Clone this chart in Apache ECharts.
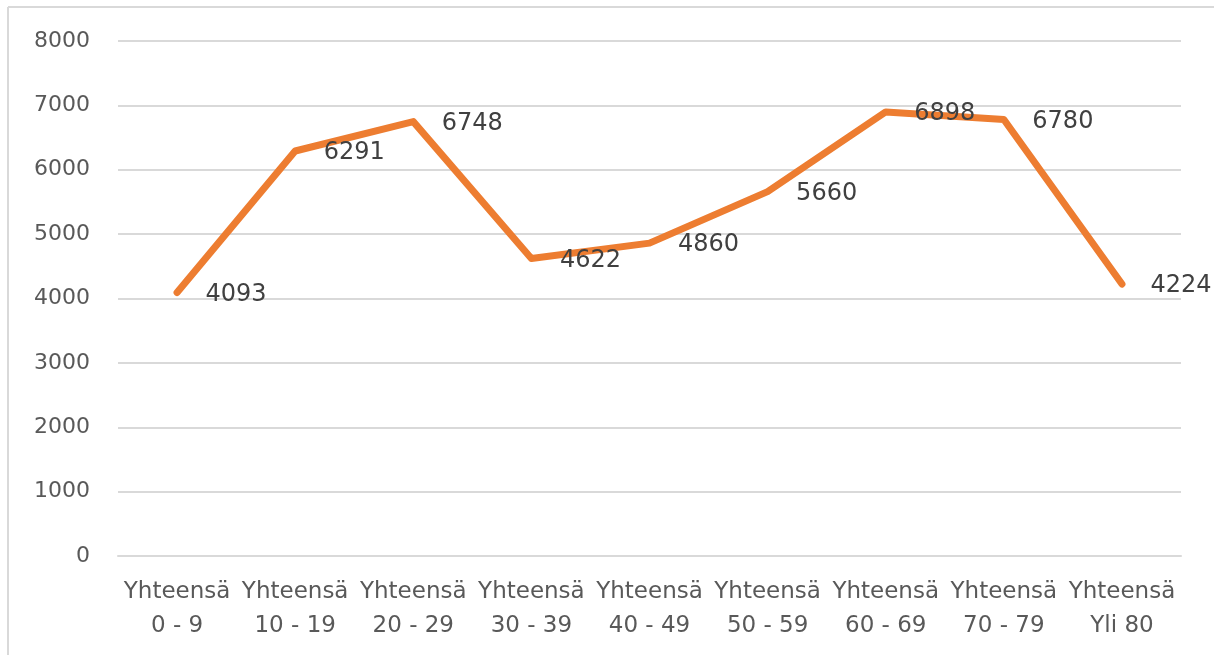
<!DOCTYPE html>
<html>
<head>
<meta charset="utf-8">
<script src="https://cdn.jsdelivr.net/npm/echarts@6/dist/echarts.min.js"></script>
<style>
  html, body { margin: 0; padding: 0; background: #fff; }
  #main { width: 1214px; height: 655px; }
</style>
</head>
<body>
<div id="main"></div>
<script>
var categories = ['Yhteensä\n0 - 9', 'Yhteensä\n10 - 19', 'Yhteensä\n20 - 29', 'Yhteensä\n30 - 39',
    'Yhteensä\n40 - 49', 'Yhteensä\n50 - 59', 'Yhteensä\n60 - 69', 'Yhteensä\n70 - 79', 'Yhteensä\nYli 80'];
var values = [4093, 6291, 6748, 4622, 4860, 5660, 6898, 6780, 4224];
var yTicks = [0, 1000, 2000, 3000, 4000, 5000, 6000, 7000, 8000];

var chart = echarts.init(document.getElementById('main'));
var font = '"DejaVu Sans", sans-serif';
var option = {
    animation: false,
    backgroundColor: '#fff',
    graphic: [
        { type: 'line', shape: { x1: 8, y1: 7, x2: 1214, y2: 7 }, style: { stroke: '#d9d9d9', lineWidth: 2 } },
        { type: 'line', shape: { x1: 8, y1: 7, x2: 8, y2: 655 }, style: { stroke: '#d9d9d9', lineWidth: 2 } }
    ],
    grid: { left: 118, right: 33, top: 41, bottom: 99 },
    xAxis: {
        type: 'category',
        data: categories,
        boundaryGap: true,
        axisLine: { show: true, lineStyle: { color: '#d9d9d9', width: 2 } },
        axisTick: { show: false },
        axisLabel: {
            interval: 0,
            margin: 19,
            color: '#595959',
            fontSize: 23,
            lineHeight: 34,
            fontFamily: font
        }
    },
    yAxis: {
        type: 'value',
        min: yTicks[0],
        max: yTicks[yTicks.length - 1],
        interval: 1000,
        axisLine: { show: false },
        axisTick: { show: false },
        splitLine: { lineStyle: { color: '#d9d9d9', width: 2 } },
        axisLabel: {
            margin: 28,
            color: '#595959',
            fontSize: 22,
            fontFamily: font,
            formatter: function (v) { return String(v); }
        }
    },
    series: [{
        type: 'line',
        data: values,
        symbol: 'circle',
        symbolSize: 1,
        itemStyle: { color: '#ed7d31' },
        lineStyle: { color: '#ed7d31', width: 7, cap: 'round', join: 'round' },
        label: {
            show: true,
            position: 'right',
            distance: 28,
            offset: [0, 2],
            color: '#404040',
            fontSize: 24,
            fontFamily: font
        }
    }]
};
chart.setOption(option);
</script>
</body>
</html>
